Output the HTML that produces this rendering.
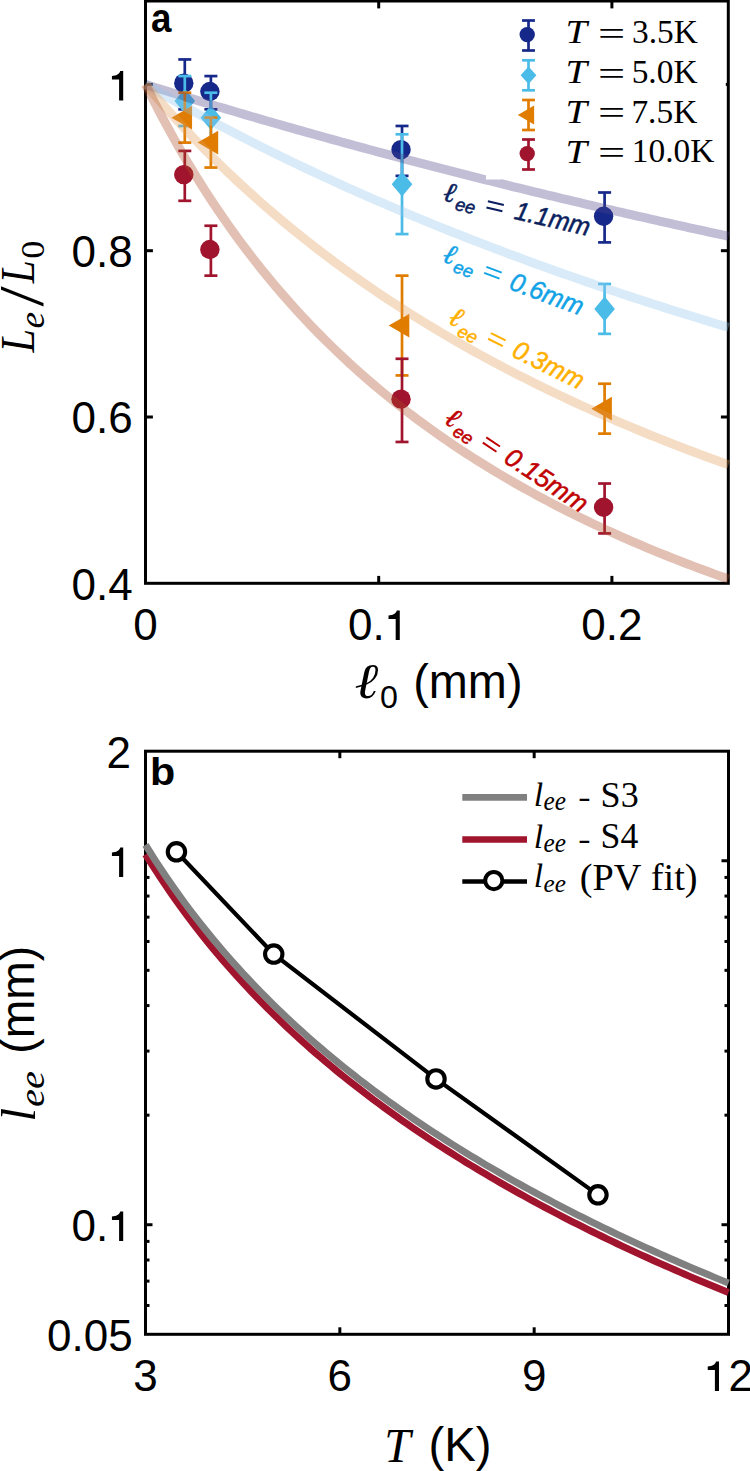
<!DOCTYPE html><html><head><meta charset="utf-8"><style>html,body{margin:0;padding:0;background:#fff;overflow:hidden}svg{display:block}</style></head><body>
<svg width="750" height="1471" viewBox="0 0 750 1471">
<rect width="750" height="1471" fill="#fff"/>
<rect x="145.50" y="1.00" width="582.80" height="582.30" fill="none" stroke="#000" stroke-width="3"/>
<line x1="145.50" y1="417.00" x2="152.90" y2="417.00" stroke="#000" stroke-width="3"/>
<line x1="728.30" y1="417.00" x2="720.90" y2="417.00" stroke="#000" stroke-width="3"/>
<line x1="145.50" y1="250.70" x2="152.90" y2="250.70" stroke="#000" stroke-width="3"/>
<line x1="728.30" y1="250.70" x2="720.90" y2="250.70" stroke="#000" stroke-width="3"/>
<line x1="145.50" y1="84.40" x2="152.90" y2="84.40" stroke="#000" stroke-width="3"/>
<line x1="728.30" y1="84.40" x2="725.80" y2="84.40" stroke="#000" stroke-width="3"/>
<line x1="378.70" y1="583.30" x2="378.70" y2="575.90" stroke="#000" stroke-width="3"/>
<line x1="378.70" y1="1.00" x2="378.70" y2="8.40" stroke="#000" stroke-width="3"/>
<line x1="611.90" y1="583.30" x2="611.90" y2="575.90" stroke="#000" stroke-width="3"/>
<line x1="611.90" y1="1.00" x2="611.90" y2="8.40" stroke="#000" stroke-width="3"/>
<line x1="184.79" y1="59.45" x2="184.79" y2="109.34" stroke="#16298b" stroke-width="2.7"/><line x1="178.29" y1="59.45" x2="191.29" y2="59.45" stroke="#16298b" stroke-width="2.7"/><line x1="178.29" y1="109.34" x2="191.29" y2="109.34" stroke="#16298b" stroke-width="2.7"/>
<circle cx="183.79" cy="83.20" r="9.70" fill="#16298b"/>
<line x1="210.89" y1="76.08" x2="210.89" y2="109.34" stroke="#16298b" stroke-width="2.7"/><line x1="204.39" y1="76.08" x2="217.39" y2="76.08" stroke="#16298b" stroke-width="2.7"/><line x1="204.39" y1="109.34" x2="217.39" y2="109.34" stroke="#16298b" stroke-width="2.7"/>
<circle cx="209.89" cy="91.51" r="9.70" fill="#16298b"/>
<line x1="402.02" y1="125.97" x2="402.02" y2="175.86" stroke="#16298b" stroke-width="2.7"/><line x1="395.52" y1="125.97" x2="408.52" y2="125.97" stroke="#16298b" stroke-width="2.7"/><line x1="395.52" y1="175.86" x2="408.52" y2="175.86" stroke="#16298b" stroke-width="2.7"/>
<circle cx="401.02" cy="149.72" r="9.70" fill="#16298b"/>
<line x1="604.60" y1="192.50" x2="604.60" y2="242.39" stroke="#16298b" stroke-width="2.7"/><line x1="598.10" y1="192.50" x2="611.10" y2="192.50" stroke="#16298b" stroke-width="2.7"/><line x1="598.10" y1="242.39" x2="611.10" y2="242.39" stroke="#16298b" stroke-width="2.7"/>
<circle cx="603.60" cy="216.24" r="9.70" fill="#16298b"/>
<line x1="184.79" y1="76.08" x2="184.79" y2="125.98" stroke="#4bbbe8" stroke-width="2.7"/><line x1="178.29" y1="76.08" x2="191.29" y2="76.08" stroke="#4bbbe8" stroke-width="2.7"/><line x1="178.29" y1="125.98" x2="191.29" y2="125.98" stroke="#4bbbe8" stroke-width="2.7"/>
<path d="M184.79 88.63 L195.09 101.03 L184.79 113.43 L174.49 101.03 Z" fill="#4bbbe8"/>
<line x1="210.89" y1="92.71" x2="210.89" y2="142.61" stroke="#4bbbe8" stroke-width="2.7"/><line x1="204.39" y1="92.71" x2="217.39" y2="92.71" stroke="#4bbbe8" stroke-width="2.7"/><line x1="204.39" y1="142.61" x2="217.39" y2="142.61" stroke="#4bbbe8" stroke-width="2.7"/>
<path d="M210.89 105.26 L221.19 117.66 L210.89 130.06 L200.59 117.66 Z" fill="#4bbbe8"/>
<line x1="402.02" y1="134.29" x2="402.02" y2="234.07" stroke="#4bbbe8" stroke-width="2.7"/><line x1="395.52" y1="134.29" x2="408.52" y2="134.29" stroke="#4bbbe8" stroke-width="2.7"/><line x1="395.52" y1="234.07" x2="408.52" y2="234.07" stroke="#4bbbe8" stroke-width="2.7"/>
<path d="M402.02 171.78 L412.32 184.18 L402.02 196.58 L391.72 184.18 Z" fill="#4bbbe8"/>
<line x1="604.60" y1="283.96" x2="604.60" y2="333.85" stroke="#4bbbe8" stroke-width="2.7"/><line x1="598.10" y1="283.96" x2="611.10" y2="283.96" stroke="#4bbbe8" stroke-width="2.7"/><line x1="598.10" y1="333.85" x2="611.10" y2="333.85" stroke="#4bbbe8" stroke-width="2.7"/>
<path d="M604.60 296.50 L614.90 308.90 L604.60 321.30 L594.30 308.90 Z" fill="#4bbbe8"/>
<line x1="184.79" y1="92.71" x2="184.79" y2="142.61" stroke="#e07c00" stroke-width="2.7"/><line x1="178.29" y1="92.71" x2="191.29" y2="92.71" stroke="#e07c00" stroke-width="2.7"/><line x1="178.29" y1="142.61" x2="191.29" y2="142.61" stroke="#e07c00" stroke-width="2.7"/>
<path d="M171.49 117.66 L192.09 105.76 L192.09 129.56 Z" fill="#e07c00"/>
<line x1="210.89" y1="117.66" x2="210.89" y2="167.55" stroke="#e07c00" stroke-width="2.7"/><line x1="204.39" y1="117.66" x2="217.39" y2="117.66" stroke="#e07c00" stroke-width="2.7"/><line x1="204.39" y1="167.55" x2="217.39" y2="167.55" stroke="#e07c00" stroke-width="2.7"/>
<path d="M197.59 142.60 L218.19 130.70 L218.19 154.50 Z" fill="#e07c00"/>
<line x1="402.02" y1="275.64" x2="402.02" y2="375.43" stroke="#e07c00" stroke-width="2.7"/><line x1="395.52" y1="275.64" x2="408.52" y2="275.64" stroke="#e07c00" stroke-width="2.7"/><line x1="395.52" y1="375.43" x2="408.52" y2="375.43" stroke="#e07c00" stroke-width="2.7"/>
<path d="M388.72 325.54 L409.32 313.64 L409.32 337.44 Z" fill="#e07c00"/>
<line x1="604.60" y1="383.74" x2="604.60" y2="433.63" stroke="#e07c00" stroke-width="2.7"/><line x1="598.10" y1="383.74" x2="611.10" y2="383.74" stroke="#e07c00" stroke-width="2.7"/><line x1="598.10" y1="433.63" x2="611.10" y2="433.63" stroke="#e07c00" stroke-width="2.7"/>
<path d="M591.30 408.68 L611.90 396.78 L611.90 420.58 Z" fill="#e07c00"/>
<line x1="184.79" y1="150.92" x2="184.79" y2="200.81" stroke="#a0142d" stroke-width="2.7"/><line x1="178.29" y1="150.92" x2="191.29" y2="150.92" stroke="#a0142d" stroke-width="2.7"/><line x1="178.29" y1="200.81" x2="191.29" y2="200.81" stroke="#a0142d" stroke-width="2.7"/>
<circle cx="183.79" cy="174.66" r="9.70" fill="#a0142d"/>
<line x1="210.89" y1="225.75" x2="210.89" y2="275.64" stroke="#a0142d" stroke-width="2.7"/><line x1="204.39" y1="225.75" x2="217.39" y2="225.75" stroke="#a0142d" stroke-width="2.7"/><line x1="204.39" y1="275.64" x2="217.39" y2="275.64" stroke="#a0142d" stroke-width="2.7"/>
<circle cx="209.89" cy="249.50" r="9.70" fill="#a0142d"/>
<line x1="402.02" y1="358.79" x2="402.02" y2="441.95" stroke="#a0142d" stroke-width="2.7"/><line x1="395.52" y1="358.79" x2="408.52" y2="358.79" stroke="#a0142d" stroke-width="2.7"/><line x1="395.52" y1="441.95" x2="408.52" y2="441.95" stroke="#a0142d" stroke-width="2.7"/>
<circle cx="401.02" cy="399.17" r="9.70" fill="#a0142d"/>
<line x1="604.60" y1="483.52" x2="604.60" y2="533.41" stroke="#a0142d" stroke-width="2.7"/><line x1="598.10" y1="483.52" x2="611.10" y2="483.52" stroke="#a0142d" stroke-width="2.7"/><line x1="598.10" y1="533.41" x2="611.10" y2="533.41" stroke="#a0142d" stroke-width="2.7"/>
<circle cx="603.60" cy="507.26" r="9.70" fill="#a0142d"/>
<path d="M145.50 84.40 L150.36 85.92 L155.22 87.44 L160.07 88.96 L164.93 90.46 L169.79 91.97 L174.65 93.46 L179.51 94.96 L184.37 96.44 L189.22 97.93 L194.08 99.40 L198.94 100.88 L203.80 102.34 L208.66 103.81 L213.52 105.27 L218.38 106.72 L223.23 108.17 L228.09 109.61 L232.95 111.05 L237.81 112.48 L242.67 113.91 L247.52 115.34 L252.38 116.75 L257.24 118.17 L262.10 119.58 L266.96 120.99 L271.82 122.39 L276.68 123.78 L281.53 125.17 L286.39 126.56 L291.25 127.94 L296.11 129.32 L300.97 130.70 L305.83 132.07 L310.68 133.43 L315.54 134.79 L320.40 136.15 L325.26 137.50 L330.12 138.85 L334.98 140.19 L339.83 141.53 L344.69 142.86 L349.55 144.19 L354.41 145.52 L359.27 146.84 L364.12 148.16 L368.98 149.47 L373.84 150.78 L378.70 152.08 L383.56 153.38 L388.42 154.68 L393.27 155.97 L398.13 157.26 L402.99 158.55 L407.85 159.83 L412.71 161.10 L417.57 162.37 L422.43 163.64 L427.28 164.91 L432.14 166.17 L437.00 167.42 L441.86 168.68 L446.72 169.92 L451.57 171.17 L456.43 172.41 L461.29 173.65 L466.15 174.88 L471.01 176.11 L475.87 177.34 L480.72 178.56 L485.58 179.78 L490.44 180.99 L495.30 182.20 L500.16 183.41 L505.02 184.61 L509.88 185.81 L514.73 187.01 L519.59 188.20 L524.45 189.39 L529.31 190.57 L534.17 191.76 L539.03 192.93 L543.88 194.11 L548.74 195.28 L553.60 196.45 L558.46 197.61 L563.32 198.77 L568.17 199.93 L573.03 201.08 L577.89 202.23 L582.75 203.38 L587.61 204.52 L592.47 205.66 L597.33 206.80 L602.18 207.93 L607.04 209.06 L611.90 210.19 L616.76 211.31 L621.62 212.43 L626.47 213.55 L631.33 214.66 L636.19 215.77 L641.05 216.88 L645.91 217.98 L650.77 219.08 L655.62 220.18 L660.48 221.27 L665.34 222.36 L670.20 223.45 L675.06 224.54 L679.92 225.62 L684.77 226.70 L689.63 227.77 L694.49 228.84 L699.35 229.91 L704.21 230.98 L709.07 232.04 L713.92 233.10 L718.78 234.16 L723.64 235.21 L728.50 236.26" fill="none" stroke="rgb(78,69,138)" stroke-opacity="0.35" stroke-width="9"/>
<path d="M145.50 84.40 L150.36 87.21 L155.22 90.00 L160.07 92.78 L164.93 95.53 L169.79 98.27 L174.65 100.99 L179.51 103.70 L184.37 106.38 L189.22 109.05 L194.08 111.71 L198.94 114.34 L203.80 116.96 L208.66 119.56 L213.52 122.15 L218.38 124.72 L223.23 127.28 L228.09 129.81 L232.95 132.34 L237.81 134.84 L242.67 137.34 L247.52 139.81 L252.38 142.27 L257.24 144.72 L262.10 147.15 L266.96 149.57 L271.82 151.97 L276.68 154.36 L281.53 156.73 L286.39 159.09 L291.25 161.44 L296.11 163.77 L300.97 166.09 L305.83 168.39 L310.68 170.68 L315.54 172.96 L320.40 175.22 L325.26 177.47 L330.12 179.71 L334.98 181.93 L339.83 184.15 L344.69 186.34 L349.55 188.53 L354.41 190.70 L359.27 192.86 L364.12 195.01 L368.98 197.15 L373.84 199.27 L378.70 201.39 L383.56 203.49 L388.42 205.58 L393.27 207.65 L398.13 209.72 L402.99 211.77 L407.85 213.81 L412.71 215.84 L417.57 217.86 L422.43 219.87 L427.28 221.87 L432.14 223.86 L437.00 225.83 L441.86 227.80 L446.72 229.75 L451.57 231.70 L456.43 233.63 L461.29 235.55 L466.15 237.46 L471.01 239.37 L475.87 241.26 L480.72 243.14 L485.58 245.01 L490.44 246.87 L495.30 248.72 L500.16 250.57 L505.02 252.40 L509.88 254.22 L514.73 256.03 L519.59 257.84 L524.45 259.63 L529.31 261.42 L534.17 263.19 L539.03 264.96 L543.88 266.72 L548.74 268.46 L553.60 270.20 L558.46 271.93 L563.32 273.66 L568.17 275.37 L573.03 277.07 L577.89 278.77 L582.75 280.46 L587.61 282.13 L592.47 283.80 L597.33 285.46 L602.18 287.12 L607.04 288.76 L611.90 290.40 L616.76 292.03 L621.62 293.65 L626.47 295.26 L631.33 296.87 L636.19 298.46 L641.05 300.05 L645.91 301.63 L650.77 303.21 L655.62 304.77 L660.48 306.33 L665.34 307.88 L670.20 309.42 L675.06 310.96 L679.92 312.49 L684.77 314.01 L689.63 315.52 L694.49 317.03 L699.35 318.52 L704.21 320.02 L709.07 321.50 L713.92 322.98 L718.78 324.45 L723.64 325.91 L728.50 327.37" fill="none" stroke="rgb(146,198,235)" stroke-opacity="0.35" stroke-width="9"/>
<path d="M145.50 84.40 L150.36 90.14 L155.22 95.81 L160.07 101.40 L164.93 106.91 L169.79 112.35 L174.65 117.72 L179.51 123.02 L184.37 128.25 L189.22 133.42 L194.08 138.51 L198.94 143.54 L203.80 148.51 L208.66 153.41 L213.52 158.26 L218.38 163.04 L223.23 167.76 L228.09 172.43 L232.95 177.04 L237.81 181.59 L242.67 186.09 L247.52 190.53 L252.38 194.92 L257.24 199.26 L262.10 203.55 L266.96 207.79 L271.82 211.97 L276.68 216.11 L281.53 220.20 L286.39 224.25 L291.25 228.25 L296.11 232.20 L300.97 236.11 L305.83 239.97 L310.68 243.80 L315.54 247.57 L320.40 251.31 L325.26 255.01 L330.12 258.67 L334.98 262.28 L339.83 265.86 L344.69 269.40 L349.55 272.90 L354.41 276.37 L359.27 279.80 L364.12 283.19 L368.98 286.55 L373.84 289.87 L378.70 293.16 L383.56 296.41 L388.42 299.63 L393.27 302.82 L398.13 305.97 L402.99 309.10 L407.85 312.19 L412.71 315.25 L417.57 318.28 L422.43 321.29 L427.28 324.26 L432.14 327.20 L437.00 330.11 L441.86 333.00 L446.72 335.86 L451.57 338.69 L456.43 341.49 L461.29 344.27 L466.15 347.02 L471.01 349.75 L475.87 352.45 L480.72 355.12 L485.58 357.77 L490.44 360.40 L495.30 363.00 L500.16 365.57 L505.02 368.13 L509.88 370.66 L514.73 373.17 L519.59 375.65 L524.45 378.11 L529.31 380.56 L534.17 382.97 L539.03 385.37 L543.88 387.75 L548.74 390.11 L553.60 392.44 L558.46 394.76 L563.32 397.05 L568.17 399.33 L573.03 401.58 L577.89 403.82 L582.75 406.04 L587.61 408.24 L592.47 410.42 L597.33 412.58 L602.18 414.72 L607.04 416.85 L611.90 418.96 L616.76 421.05 L621.62 423.13 L626.47 425.18 L631.33 427.22 L636.19 429.25 L641.05 431.26 L645.91 433.25 L650.77 435.22 L655.62 437.18 L660.48 439.13 L665.34 441.05 L670.20 442.97 L675.06 444.87 L679.92 446.75 L684.77 448.62 L689.63 450.47 L694.49 452.31 L699.35 454.14 L704.21 455.95 L709.07 457.75 L713.92 459.53 L718.78 461.31 L723.64 463.06 L728.50 464.81" fill="none" stroke="rgb(226,158,89)" stroke-opacity="0.35" stroke-width="9"/>
<path d="M145.50 84.40 L150.36 94.18 L155.22 103.74 L160.07 113.08 L164.93 122.21 L169.79 131.15 L174.65 139.88 L179.51 148.43 L184.37 156.80 L189.22 164.99 L194.08 173.01 L198.94 180.86 L203.80 188.56 L208.66 196.09 L213.52 203.48 L218.38 210.72 L223.23 217.82 L228.09 224.78 L232.95 231.60 L237.81 238.29 L242.67 244.86 L247.52 251.31 L252.38 257.63 L257.24 263.84 L262.10 269.94 L266.96 275.92 L271.82 281.80 L276.68 287.57 L281.53 293.24 L286.39 298.82 L291.25 304.29 L296.11 309.68 L300.97 314.97 L305.83 320.17 L310.68 325.29 L315.54 330.32 L320.40 335.27 L325.26 340.13 L330.12 344.92 L334.98 349.63 L339.83 354.27 L344.69 358.83 L349.55 363.33 L354.41 367.75 L359.27 372.10 L364.12 376.39 L368.98 380.61 L373.84 384.77 L378.70 388.87 L383.56 392.90 L388.42 396.88 L393.27 400.80 L398.13 404.66 L402.99 408.47 L407.85 412.22 L412.71 415.91 L417.57 419.56 L422.43 423.15 L427.28 426.70 L432.14 430.19 L437.00 433.64 L441.86 437.04 L446.72 440.39 L451.57 443.70 L456.43 446.97 L461.29 450.19 L466.15 453.37 L471.01 456.50 L475.87 459.60 L480.72 462.66 L485.58 465.67 L490.44 468.65 L495.30 471.59 L500.16 474.50 L505.02 477.36 L509.88 480.20 L514.73 482.99 L519.59 485.75 L524.45 488.48 L529.31 491.18 L534.17 493.84 L539.03 496.47 L543.88 499.07 L548.74 501.64 L553.60 504.17 L558.46 506.68 L563.32 509.16 L568.17 511.61 L573.03 514.03 L577.89 516.43 L582.75 518.80 L587.61 521.14 L592.47 523.45 L597.33 525.74 L602.18 528.00 L607.04 530.24 L611.90 532.45 L616.76 534.64 L621.62 536.80 L626.47 538.94 L631.33 541.06 L636.19 543.16 L641.05 545.23 L645.91 547.28 L650.77 549.31 L655.62 551.32 L660.48 553.30 L665.34 555.27 L670.20 557.22 L675.06 559.14 L679.92 561.05 L684.77 562.93 L689.63 564.80 L694.49 566.65 L699.35 568.48 L704.21 570.29 L709.07 572.09 L713.92 573.86 L718.78 575.62 L723.64 577.36 L728.50 579.09" fill="none" stroke="rgb(172,78,41)" stroke-opacity="0.35" stroke-width="9"/>
<path d="M486 173.5 L486 179.6 L501.5 179.6 L501.5 177.2 Z" fill="#fff"/>
<g transform="translate(513.9 218.8) rotate(13.2)" stroke-width="0.5"><text x="-74.20" y="-1.60" fill="#0b1f5e" stroke="#0b1f5e" font-family="Liberation Serif, serif" font-style="italic" font-size="28">ℓ</text><text x="-60.18" y="4.81" fill="#0b1f5e" stroke="#0b1f5e" font-family="Liberation Sans, sans-serif" font-style="italic" font-size="18">ee</text><g fill="#0b1f5e" transform="translate(0.26 -0.31)"><rect x="-29.6" y="-11.8" width="16.4" height="2.0"/><rect x="-29.6" y="-5.5" width="16.4" height="2.0"/></g><text x="-0.7" y="0" transform="scale(0.965 1)" fill="#0b1f5e" stroke="#0b1f5e" font-family="Liberation Sans, sans-serif" font-style="italic" font-size="26">1.1mm</text></g>
<g transform="translate(508.6 289.0) rotate(20.5)" stroke-width="0.5"><text x="-72.77" y="-2.66" fill="#12a3e6" stroke="#12a3e6" font-family="Liberation Serif, serif" font-style="italic" font-size="28">ℓ</text><text x="-59.08" y="3.47" fill="#12a3e6" stroke="#12a3e6" font-family="Liberation Sans, sans-serif" font-style="italic" font-size="18">ee</text><g fill="#12a3e6" transform="translate(1.05 -2.10)"><rect x="-29.6" y="-11.8" width="16.4" height="2.0"/><rect x="-29.6" y="-5.5" width="16.4" height="2.0"/></g><text x="-0.7" y="0" transform="scale(0.965 1)" fill="#12a3e6" stroke="#12a3e6" font-family="Liberation Sans, sans-serif" font-style="italic" font-size="26">0.6mm</text></g>
<g transform="translate(511.0 356.0) rotate(26.5)" stroke-width="0.5"><text x="-72.08" y="-1.25" fill="#ffb000" stroke="#ffb000" font-family="Liberation Serif, serif" font-style="italic" font-size="28">ℓ</text><text x="-58.51" y="5.90" fill="#ffb000" stroke="#ffb000" font-family="Liberation Sans, sans-serif" font-style="italic" font-size="18">ee</text><g fill="#ffb000" transform="translate(1.43 -0.71)"><rect x="-29.6" y="-11.8" width="16.4" height="2.0"/><rect x="-29.6" y="-5.5" width="16.4" height="2.0"/></g><text x="-0.7" y="0" transform="scale(0.965 1)" fill="#ffb000" stroke="#ffb000" font-family="Liberation Sans, sans-serif" font-style="italic" font-size="26">0.3mm</text></g>
<g transform="translate(503.0 462.0) rotate(33.5)" stroke-width="0.5"><text x="-71.91" y="-0.11" fill="#c00000" stroke="#c00000" font-family="Liberation Serif, serif" font-style="italic" font-size="28">ℓ</text><text x="-58.08" y="5.45" fill="#c00000" stroke="#c00000" font-family="Liberation Sans, sans-serif" font-style="italic" font-size="18">ee</text><g fill="#c00000" transform="translate(2.11 -0.44)"><rect x="-29.6" y="-11.8" width="16.4" height="2.0"/><rect x="-29.6" y="-5.5" width="16.4" height="2.0"/></g><text x="-0.7" y="0" transform="scale(1.000 1)" fill="#c00000" stroke="#c00000" font-family="Liberation Sans, sans-serif" font-style="italic" font-size="26">0.15mm</text></g>
<line x1="528.50" y1="20.50" x2="528.50" y2="50.50" stroke="#16298b" stroke-width="2.7"/><line x1="522.05" y1="20.50" x2="534.95" y2="20.50" stroke="#16298b" stroke-width="2.7"/><line x1="522.05" y1="50.50" x2="534.95" y2="50.50" stroke="#16298b" stroke-width="2.7"/>
<circle cx="527.20" cy="34.60" r="7.7" fill="#16298b"/>
<text transform="translate(565.57 43.40) scale(1.1744 1)" font-family="Liberation Serif, serif" font-style="italic" font-weight="normal" font-size="32.99" fill="#000" style="font-kerning:none">T</text>
<text transform="translate(598.10 45.04) scale(1.4158 1)" font-family="Liberation Serif, serif" font-style="normal" font-weight="normal" font-size="34.00" fill="#000" style="font-kerning:none">=</text>
<line x1="528.50" y1="60.30" x2="528.50" y2="90.30" stroke="#4bbbe8" stroke-width="2.7"/><line x1="522.05" y1="60.30" x2="534.95" y2="60.30" stroke="#4bbbe8" stroke-width="2.7"/><line x1="522.05" y1="90.30" x2="534.95" y2="90.30" stroke="#4bbbe8" stroke-width="2.7"/>
<path d="M528.50 66.60 L536.40 75.30 L528.50 84.00 L520.60 75.30 Z" fill="#4bbbe8"/>
<text transform="translate(565.57 83.10) scale(1.1744 1)" font-family="Liberation Serif, serif" font-style="italic" font-weight="normal" font-size="32.99" fill="#000" style="font-kerning:none">T</text>
<text transform="translate(598.10 84.74) scale(1.4158 1)" font-family="Liberation Serif, serif" font-style="normal" font-weight="normal" font-size="34.00" fill="#000" style="font-kerning:none">=</text>
<line x1="528.50" y1="100.00" x2="528.50" y2="130.00" stroke="#e07c00" stroke-width="2.7"/><line x1="522.05" y1="100.00" x2="534.95" y2="100.00" stroke="#e07c00" stroke-width="2.7"/><line x1="522.05" y1="130.00" x2="534.95" y2="130.00" stroke="#e07c00" stroke-width="2.7"/>
<path d="M517.80 115.00 L534.10 105.60 L534.10 124.40 Z" fill="#e07c00"/>
<text transform="translate(565.57 122.80) scale(1.1744 1)" font-family="Liberation Serif, serif" font-style="italic" font-weight="normal" font-size="32.99" fill="#000" style="font-kerning:none">T</text>
<text transform="translate(598.10 124.44) scale(1.4158 1)" font-family="Liberation Serif, serif" font-style="normal" font-weight="normal" font-size="34.00" fill="#000" style="font-kerning:none">=</text>
<line x1="528.50" y1="139.50" x2="528.50" y2="169.50" stroke="#a0142d" stroke-width="2.7"/><line x1="522.05" y1="139.50" x2="534.95" y2="139.50" stroke="#a0142d" stroke-width="2.7"/><line x1="522.05" y1="169.50" x2="534.95" y2="169.50" stroke="#a0142d" stroke-width="2.7"/>
<circle cx="527.20" cy="153.60" r="7.7" fill="#a0142d"/>
<text transform="translate(565.57 162.50) scale(1.1744 1)" font-family="Liberation Serif, serif" font-style="italic" font-weight="normal" font-size="32.99" fill="#000" style="font-kerning:none">T</text>
<text transform="translate(598.10 164.14) scale(1.4158 1)" font-family="Liberation Serif, serif" font-style="normal" font-weight="normal" font-size="34.00" fill="#000" style="font-kerning:none">=</text>
<text transform="translate(632.00 43.33) scale(1.0095 1)" font-family="Liberation Serif, serif" font-style="normal" font-weight="normal" font-size="33.12" fill="#000" style="font-kerning:none">3.5K</text>
<text transform="translate(631.66 83.03) scale(1.0138 1)" font-family="Liberation Serif, serif" font-style="normal" font-weight="normal" font-size="32.98" fill="#000" style="font-kerning:none">5.0K</text>
<text transform="translate(631.40 122.73) scale(0.9985 1)" font-family="Liberation Serif, serif" font-style="normal" font-weight="normal" font-size="33.49" fill="#000" style="font-kerning:none">7.5K</text>
<text transform="translate(631.76 162.43) scale(1.0138 1)" font-family="Liberation Serif, serif" font-style="normal" font-weight="normal" font-size="32.98" fill="#000" style="font-kerning:none">10.0K</text>
<text x="71.54" y="599.50" font-family="Liberation Sans, sans-serif" font-size="44">0</text><text x="96.00" y="599.50" font-family="Liberation Sans, sans-serif" font-size="44">.</text><text x="108.24" y="599.50" font-family="Liberation Sans, sans-serif" font-size="44">4</text>
<text x="71.54" y="433.20" font-family="Liberation Sans, sans-serif" font-size="44">0</text><text x="96.00" y="433.20" font-family="Liberation Sans, sans-serif" font-size="44">.</text><text x="108.24" y="433.20" font-family="Liberation Sans, sans-serif" font-size="44">6</text>
<text x="71.54" y="266.90" font-family="Liberation Sans, sans-serif" font-size="44">0</text><text x="96.00" y="266.90" font-family="Liberation Sans, sans-serif" font-size="44">.</text><text x="108.24" y="266.90" font-family="Liberation Sans, sans-serif" font-size="44">8</text>
<path d="M123.20 70.99 L123.20 100.60 L119.10 100.60 L119.10 79.48 L111.93 79.48 L111.93 76.00 C116.16 75.74 119.46 74.20 120.20 70.99 Z" fill="#000"/>
<text x="133.27" y="640.10" font-family="Liberation Sans, sans-serif" font-size="44">0</text>
<text x="348.12" y="640.10" font-family="Liberation Sans, sans-serif" font-size="44">0</text><text x="372.58" y="640.10" font-family="Liberation Sans, sans-serif" font-size="44">.</text><path d="M399.78 610.49 L399.78 640.10 L395.68 640.10 L395.68 618.98 L388.51 618.98 L388.51 615.50 C392.74 615.24 396.04 613.70 396.78 610.49 Z" fill="#000"/>
<text x="581.32" y="640.10" font-family="Liberation Sans, sans-serif" font-size="44">0</text><text x="605.78" y="640.10" font-family="Liberation Sans, sans-serif" font-size="44">.</text><text x="618.02" y="640.10" font-family="Liberation Sans, sans-serif" font-size="44">2</text>
<text transform="translate(150.92 32.00) scale(0.8990 1)" font-family="Liberation Sans, sans-serif" font-style="normal" font-weight="bold" font-size="40.89" fill="#000" style="font-kerning:none">a</text>
<text transform="translate(354.43 697.91) scale(1.1511 1)" font-family="Liberation Serif, serif" font-style="italic" font-weight="normal" font-size="49.76" fill="#000" style="font-kerning:none">ℓ</text>
<text transform="translate(380.04 707.90) scale(1.0415 1)" font-family="Liberation Sans, sans-serif" font-style="normal" font-weight="normal" font-size="30.93" fill="#000" style="font-kerning:none">0</text>
<text transform="translate(413.19 698.01) scale(0.9814 1)" font-family="Liberation Sans, sans-serif" font-style="normal" font-weight="normal" font-size="47.77" fill="#000" style="font-kerning:none">(mm)</text>
<g transform="rotate(-90)"><text transform="translate(-352.50 34.30) scale(0.8758 1)" font-family="Liberation Serif, serif" font-style="italic" font-weight="normal" font-size="48.26" fill="#000" style="font-kerning:none">L</text><text transform="translate(-328.45 43.65) scale(1.0574 1)" font-family="Liberation Serif, serif" font-style="italic" font-weight="normal" font-size="35.35" fill="#000" style="font-kerning:none">e</text><text transform="translate(-306.50 43.38) scale(1.1364 1)" font-family="Liberation Serif, serif" font-style="normal" font-weight="normal" font-size="63.98" fill="#000" style="font-kerning:none">/</text><text transform="translate(-283.32 34.30) scale(0.8601 1)" font-family="Liberation Serif, serif" font-style="italic" font-weight="normal" font-size="47.80" fill="#000" style="font-kerning:none">L</text><text transform="translate(-258.87 44.38) scale(1.1023 1)" font-family="Liberation Serif, serif" font-style="normal" font-weight="normal" font-size="32.75" fill="#000" style="font-kerning:none">0</text></g>
<rect x="145.50" y="751.20" width="583.00" height="583.10" fill="none" stroke="#000" stroke-width="3"/>
<line x1="145.50" y1="1224.73" x2="152.50" y2="1224.73" stroke="#000" stroke-width="3"/>
<line x1="728.50" y1="1224.73" x2="721.50" y2="1224.73" stroke="#000" stroke-width="3"/>
<line x1="145.50" y1="860.77" x2="152.50" y2="860.77" stroke="#000" stroke-width="3"/>
<line x1="728.50" y1="860.77" x2="721.50" y2="860.77" stroke="#000" stroke-width="3"/>
<line x1="145.50" y1="1305.48" x2="149.50" y2="1305.48" stroke="#000" stroke-width="3"/>
<line x1="728.50" y1="1305.48" x2="724.50" y2="1305.48" stroke="#000" stroke-width="3"/>
<line x1="145.50" y1="1281.11" x2="149.50" y2="1281.11" stroke="#000" stroke-width="3"/>
<line x1="728.50" y1="1281.11" x2="724.50" y2="1281.11" stroke="#000" stroke-width="3"/>
<line x1="145.50" y1="1260.01" x2="149.50" y2="1260.01" stroke="#000" stroke-width="3"/>
<line x1="728.50" y1="1260.01" x2="724.50" y2="1260.01" stroke="#000" stroke-width="3"/>
<line x1="145.50" y1="1241.39" x2="149.50" y2="1241.39" stroke="#000" stroke-width="3"/>
<line x1="728.50" y1="1241.39" x2="724.50" y2="1241.39" stroke="#000" stroke-width="3"/>
<line x1="145.50" y1="1115.17" x2="149.50" y2="1115.17" stroke="#000" stroke-width="3"/>
<line x1="728.50" y1="1115.17" x2="724.50" y2="1115.17" stroke="#000" stroke-width="3"/>
<line x1="145.50" y1="1051.08" x2="149.50" y2="1051.08" stroke="#000" stroke-width="3"/>
<line x1="728.50" y1="1051.08" x2="724.50" y2="1051.08" stroke="#000" stroke-width="3"/>
<line x1="145.50" y1="1005.60" x2="149.50" y2="1005.60" stroke="#000" stroke-width="3"/>
<line x1="728.50" y1="1005.60" x2="724.50" y2="1005.60" stroke="#000" stroke-width="3"/>
<line x1="145.50" y1="970.33" x2="149.50" y2="970.33" stroke="#000" stroke-width="3"/>
<line x1="728.50" y1="970.33" x2="724.50" y2="970.33" stroke="#000" stroke-width="3"/>
<line x1="145.50" y1="941.51" x2="149.50" y2="941.51" stroke="#000" stroke-width="3"/>
<line x1="728.50" y1="941.51" x2="724.50" y2="941.51" stroke="#000" stroke-width="3"/>
<line x1="145.50" y1="917.15" x2="149.50" y2="917.15" stroke="#000" stroke-width="3"/>
<line x1="728.50" y1="917.15" x2="724.50" y2="917.15" stroke="#000" stroke-width="3"/>
<line x1="145.50" y1="896.04" x2="149.50" y2="896.04" stroke="#000" stroke-width="3"/>
<line x1="728.50" y1="896.04" x2="724.50" y2="896.04" stroke="#000" stroke-width="3"/>
<line x1="145.50" y1="877.42" x2="149.50" y2="877.42" stroke="#000" stroke-width="3"/>
<line x1="728.50" y1="877.42" x2="724.50" y2="877.42" stroke="#000" stroke-width="3"/>
<line x1="339.83" y1="1334.30" x2="339.83" y2="1327.30" stroke="#000" stroke-width="3"/>
<line x1="339.83" y1="751.20" x2="339.83" y2="758.20" stroke="#000" stroke-width="3"/>
<line x1="534.17" y1="1334.30" x2="534.17" y2="1327.30" stroke="#000" stroke-width="3"/>
<line x1="534.17" y1="751.20" x2="534.17" y2="758.20" stroke="#000" stroke-width="3"/>
<path d="M145.50 854.30 L150.36 862.11 L155.22 869.73 L160.08 877.17 L164.93 884.43 L169.79 891.54 L174.65 898.49 L179.51 905.29 L184.37 911.94 L189.22 918.46 L194.08 924.85 L198.94 931.11 L203.80 937.25 L208.66 943.27 L213.52 949.18 L218.38 954.98 L223.23 960.67 L228.09 966.27 L232.95 971.77 L237.81 977.17 L242.67 982.49 L247.53 987.71 L252.38 992.85 L257.24 997.91 L262.10 1002.89 L266.96 1007.79 L271.82 1012.62 L276.68 1017.37 L281.53 1022.05 L286.39 1026.67 L291.25 1031.22 L296.11 1035.70 L300.97 1040.12 L305.82 1044.49 L310.68 1048.79 L315.54 1053.03 L320.40 1057.22 L325.26 1061.35 L330.12 1065.43 L334.98 1069.46 L339.83 1073.43 L344.69 1077.36 L349.55 1081.24 L354.41 1085.07 L359.27 1088.86 L364.12 1092.60 L368.98 1096.30 L373.84 1099.95 L378.70 1103.56 L383.56 1107.14 L388.42 1110.67 L393.27 1114.16 L398.13 1117.62 L402.99 1121.04 L407.85 1124.42 L412.71 1127.76 L417.57 1131.07 L422.43 1134.35 L427.28 1137.59 L432.14 1140.80 L437.00 1143.98 L441.86 1147.12 L446.72 1150.24 L451.57 1153.32 L456.43 1156.38 L461.29 1159.40 L466.15 1162.40 L471.01 1165.37 L475.87 1168.31 L480.73 1171.22 L485.58 1174.11 L490.44 1176.97 L495.30 1179.81 L500.16 1182.62 L505.02 1185.40 L509.88 1188.16 L514.73 1190.90 L519.59 1193.61 L524.45 1196.30 L529.31 1198.97 L534.17 1201.62 L539.02 1204.24 L543.88 1206.84 L548.74 1209.42 L553.60 1211.98 L558.46 1214.52 L563.32 1217.04 L568.17 1219.54 L573.03 1222.02 L577.89 1224.48 L582.75 1226.92 L587.61 1229.34 L592.47 1231.75 L597.33 1234.13 L602.18 1236.50 L607.04 1238.85 L611.90 1241.19 L616.76 1243.50 L621.62 1245.80 L626.48 1248.08 L631.33 1250.35 L636.19 1252.60 L641.05 1254.83 L645.91 1257.05 L650.77 1259.26 L655.62 1261.44 L660.48 1263.62 L665.34 1265.77 L670.20 1267.92 L675.06 1270.05 L679.92 1272.16 L684.77 1274.26 L689.63 1276.35 L694.49 1278.42 L699.35 1280.48 L704.21 1282.53 L709.07 1284.56 L713.92 1286.58 L718.78 1288.59 L723.64 1290.58 L728.50 1292.56" fill="none" stroke="#a0142d" stroke-width="7"/>
<path d="M145.50 844.84 L150.36 852.65 L155.22 860.26 L160.08 867.70 L164.93 874.97 L169.79 882.08 L174.65 889.02 L179.51 895.82 L184.37 902.48 L189.22 909.00 L194.08 915.38 L198.94 921.64 L203.80 927.78 L208.66 933.80 L213.52 939.71 L218.38 945.51 L223.23 951.21 L228.09 956.81 L232.95 962.31 L237.81 967.71 L242.67 973.02 L247.53 978.25 L252.38 983.39 L257.24 988.45 L262.10 993.43 L266.96 998.33 L271.82 1003.15 L276.68 1007.91 L281.53 1012.59 L286.39 1017.21 L291.25 1021.76 L296.11 1026.24 L300.97 1030.66 L305.82 1035.02 L310.68 1039.32 L315.54 1043.57 L320.40 1047.75 L325.26 1051.89 L330.12 1055.97 L334.98 1059.99 L339.83 1063.97 L344.69 1067.90 L349.55 1071.78 L354.41 1075.61 L359.27 1079.39 L364.12 1083.14 L368.98 1086.83 L373.84 1090.49 L378.70 1094.10 L383.56 1097.67 L388.42 1101.21 L393.27 1104.70 L398.13 1108.15 L402.99 1111.57 L407.85 1114.95 L412.71 1118.30 L417.57 1121.61 L422.43 1124.89 L427.28 1128.13 L432.14 1131.34 L437.00 1134.51 L441.86 1137.66 L446.72 1140.78 L451.57 1143.86 L456.43 1146.91 L461.29 1149.94 L466.15 1152.94 L471.01 1155.90 L475.87 1158.85 L480.73 1161.76 L485.58 1164.65 L490.44 1167.51 L495.30 1170.34 L500.16 1173.15 L505.02 1175.94 L509.88 1178.70 L514.73 1181.44 L519.59 1184.15 L524.45 1186.84 L529.31 1189.51 L534.17 1192.15 L539.02 1194.78 L543.88 1197.38 L548.74 1199.96 L553.60 1202.52 L558.46 1205.06 L563.32 1207.58 L568.17 1210.08 L573.03 1212.56 L577.89 1215.02 L582.75 1217.46 L587.61 1219.88 L592.47 1222.29 L597.33 1224.67 L602.18 1227.04 L607.04 1229.39 L611.90 1231.72 L616.76 1234.04 L621.62 1236.34 L626.48 1238.62 L631.33 1240.89 L636.19 1243.14 L641.05 1245.37 L645.91 1247.59 L650.77 1249.79 L655.62 1251.98 L660.48 1254.15 L665.34 1256.31 L670.20 1258.45 L675.06 1260.58 L679.92 1262.70 L684.77 1264.80 L689.63 1266.89 L694.49 1268.96 L699.35 1271.02 L704.21 1273.06 L709.07 1275.10 L713.92 1277.12 L718.78 1279.12 L723.64 1281.12 L728.50 1283.10" fill="none" stroke="#808080" stroke-width="7"/>
<path d="M176.45 851.80 L273.75 954.10 L436.00 1078.90 L597.95 1194.85" fill="none" stroke="#000" stroke-width="4.2"/>
<circle cx="176.45" cy="851.80" r="8.7" fill="#fff" stroke="#000" stroke-width="4.1"/>
<circle cx="273.75" cy="954.10" r="8.7" fill="#fff" stroke="#000" stroke-width="4.1"/>
<circle cx="436.00" cy="1078.90" r="8.7" fill="#fff" stroke="#000" stroke-width="4.1"/>
<circle cx="597.95" cy="1194.85" r="8.7" fill="#fff" stroke="#000" stroke-width="4.1"/>
<line x1="462.3" y1="797.4" x2="527" y2="797.4" stroke="#808080" stroke-width="6.6"/>
<line x1="462.3" y1="839.5" x2="527" y2="839.5" stroke="#a0142d" stroke-width="6.6"/>
<line x1="462.3" y1="881.5" x2="527" y2="881.5" stroke="#000" stroke-width="4.3"/>
<circle cx="493.8" cy="880.6" r="8.6" fill="#fff" stroke="#000" stroke-width="4.0"/>
<text transform="translate(533.67 805.70)" font-family="Liberation Serif, serif" font-style="italic" font-weight="normal" font-size="33.87" fill="#000" style="font-kerning:none">l</text>
<text transform="translate(543.42 810.24) scale(0.9576 1)" font-family="Liberation Serif, serif" font-style="italic" font-weight="normal" font-size="26.41" fill="#000" style="font-kerning:none">ee</text>
<text transform="translate(578.33 806.57) scale(1.1504 1)" font-family="Liberation Serif, serif" font-style="normal" font-weight="normal" font-size="32.13" fill="#000" style="font-kerning:none">-</text>
<text transform="translate(533.67 847.90)" font-family="Liberation Serif, serif" font-style="italic" font-weight="normal" font-size="33.87" fill="#000" style="font-kerning:none">l</text>
<text transform="translate(543.42 852.44) scale(0.9576 1)" font-family="Liberation Serif, serif" font-style="italic" font-weight="normal" font-size="26.41" fill="#000" style="font-kerning:none">ee</text>
<text transform="translate(578.33 848.77) scale(1.1504 1)" font-family="Liberation Serif, serif" font-style="normal" font-weight="normal" font-size="32.13" fill="#000" style="font-kerning:none">-</text>
<text transform="translate(600.59 806.56) scale(1.0321 1)" font-family="Liberation Serif, serif" font-style="normal" font-weight="normal" font-size="34.98" fill="#000" style="font-kerning:none">S3</text>
<text transform="translate(600.61 847.76) scale(1.0219 1)" font-family="Liberation Serif, serif" font-style="normal" font-weight="normal" font-size="34.98" fill="#000" style="font-kerning:none">S4</text>
<text transform="translate(533.71 887.40)" font-family="Liberation Serif, serif" font-style="italic" font-weight="normal" font-size="33.58" fill="#000" style="font-kerning:none">l</text>
<text transform="translate(543.42 891.95) scale(0.9729 1)" font-family="Liberation Serif, serif" font-style="italic" font-weight="normal" font-size="25.99" fill="#000" style="font-kerning:none">ee</text>
<text transform="translate(579.72 890.12) scale(1.0073 1)" font-family="Liberation Serif, serif" font-style="normal" font-weight="normal" font-size="37.95" fill="#000" style="font-kerning:none">(PV fit)</text>
<text x="47.08" y="1350.60" font-family="Liberation Sans, sans-serif" font-size="44">0</text><text x="71.54" y="1350.60" font-family="Liberation Sans, sans-serif" font-size="44">.</text><text x="83.77" y="1350.60" font-family="Liberation Sans, sans-serif" font-size="44">0</text><text x="108.24" y="1350.60" font-family="Liberation Sans, sans-serif" font-size="44">5</text>
<text x="71.54" y="1241.03" font-family="Liberation Sans, sans-serif" font-size="44">0</text><text x="96.00" y="1241.03" font-family="Liberation Sans, sans-serif" font-size="44">.</text><path d="M123.20 1211.42 L123.20 1241.03 L119.10 1241.03 L119.10 1219.91 L111.93 1219.91 L111.93 1216.44 C116.16 1216.17 119.46 1214.63 120.20 1211.42 Z" fill="#000"/>
<path d="M123.20 847.45 L123.20 877.07 L119.10 877.07 L119.10 855.95 L111.93 855.95 L111.93 852.47 C116.16 852.21 119.46 850.67 120.20 847.45 Z" fill="#000"/>
<text x="106.44" y="767.50" font-family="Liberation Sans, sans-serif" font-size="44">2</text>
<text x="133.27" y="1391.10" font-family="Liberation Sans, sans-serif" font-size="44">3</text>
<text x="327.60" y="1391.10" font-family="Liberation Sans, sans-serif" font-size="44">6</text>
<text x="521.93" y="1391.10" font-family="Liberation Sans, sans-serif" font-size="44">9</text>
<path d="M719.00 1361.49 L719.00 1391.10 L714.90 1391.10 L714.90 1369.98 L707.73 1369.98 L707.73 1366.50 C711.96 1366.24 715.26 1364.70 716.00 1361.49 Z" fill="#000"/><text x="728.50" y="1391.10" font-family="Liberation Sans, sans-serif" font-size="44">2</text>
<text transform="translate(150.08 785.12) scale(1.0525 1)" font-family="Liberation Sans, sans-serif" font-style="normal" font-weight="bold" font-size="39.22" fill="#000" style="font-kerning:none">b</text>
<text transform="translate(384.21 1461.50) scale(0.9768 1)" font-family="Liberation Serif, serif" font-style="italic" font-weight="normal" font-size="48.41" fill="#000" style="font-kerning:none">T</text>
<text transform="translate(428.57 1461.46) scale(0.9752 1)" font-family="Liberation Sans, sans-serif" font-style="normal" font-weight="normal" font-size="48.52" fill="#000" style="font-kerning:none">(K)</text>
<g transform="rotate(-90)"><text transform="translate(-1121.41 34.70)" font-family="Liberation Serif, serif" font-style="italic" font-weight="normal" font-size="48.57" fill="#000" style="font-kerning:none">l</text><text transform="translate(-1106.94 43.65) scale(1.1425 1)" font-family="Liberation Serif, serif" font-style="italic" font-weight="normal" font-size="35.35" fill="#000" style="font-kerning:none">ee</text><text transform="translate(-1053.77 34.29) scale(0.9774 1)" font-family="Liberation Sans, sans-serif" font-style="normal" font-weight="normal" font-size="47.40" fill="#000" style="font-kerning:none">(mm)</text></g>
</svg></body></html>
